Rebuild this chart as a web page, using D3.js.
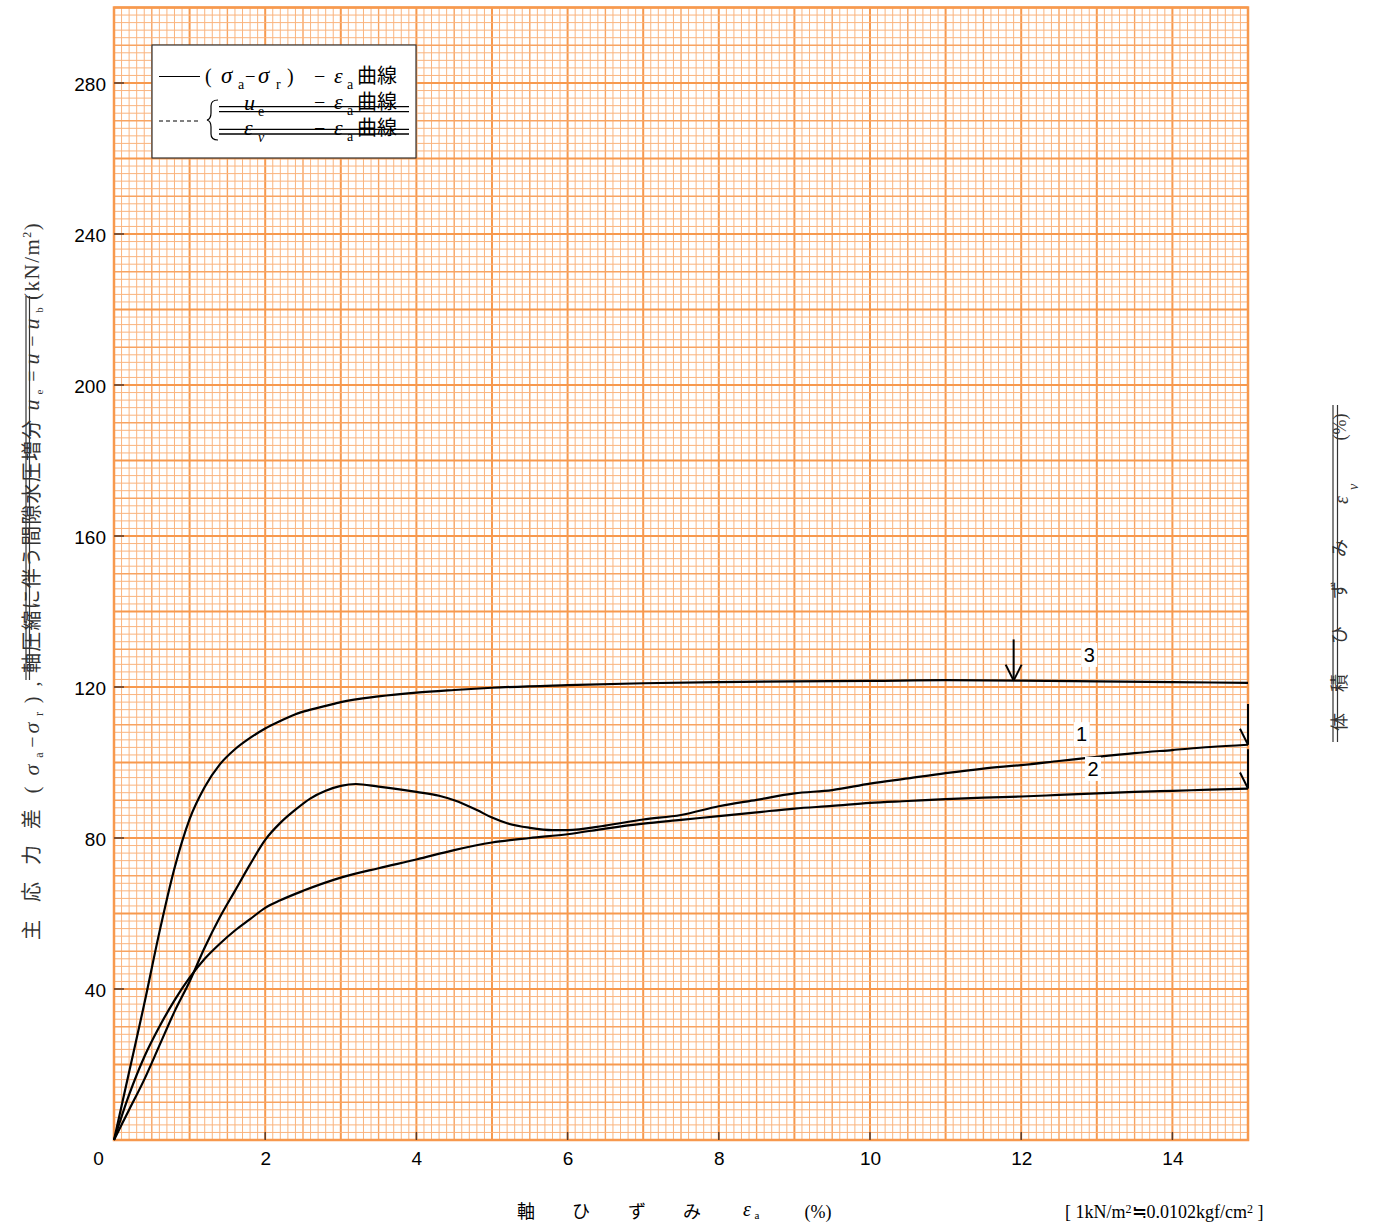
<!DOCTYPE html>
<html><head><meta charset="utf-8">
<script src="https://cdn.jsdelivr.net/npm/d3@7"></script>
<style>
html,body{margin:0;padding:0;background:#fff;}
svg{display:block;}
.serif{font-family:"Liberation Serif","Noto Sans CJK JP",serif;}
.sans{font-family:"Liberation Sans",Arial,sans-serif;}
</style></head>
<body>
<script>
// ---------- data ----------
const xTicks = [0,2,4,6,8,10,12,14];
const yTicks = [40,80,120,160,200,240,280];

const curve3X = [0,0.2,0.4,0.6,0.8,1.0,1.2,1.4,1.6,1.8,2.0,2.2,2.4,2.6,2.8,3.0,3.5,4.0,4.5,5,6,7,8,9,10,11,12,13,14,15];
const curve3Y = [0,18,36,55,72,85,93.5,99.5,103.5,106.5,109,111,112.8,114,115,116,117.5,118.5,119.2,119.8,120.5,121,121.3,121.5,121.6,121.8,121.7,121.5,121.3,121.1];

const curve1X = [0,0.2,0.4,0.6,0.8,1.0,1.2,1.4,1.6,1.8,2.0,2.2,2.4,2.6,2.8,3.0,3.2,3.5,3.8,4.0,4.3,4.5,4.8,5.0,5.2,5.5,5.8,6.0,6.5,7.0,7.5,8.0,8.5,9.0,9.5,10,10.5,11,11.5,12,12.5,13,13.5,14,14.5,15];
const curve1Y = [0,8,16,25,34,42,51,59,66,73,79.5,84,87.5,90.5,92.5,93.8,94.3,93.6,92.8,92.2,91.2,90,87.4,85.4,83.9,82.7,82.1,82.1,83.3,84.9,86.1,88.4,90.1,91.8,92.7,94.4,95.8,97.2,98.4,99.3,100.4,101.5,102.5,103.3,104.1,104.7];

const curve2X = [0,0.2,0.4,0.6,0.8,1.0,1.2,1.4,1.6,1.8,2.0,2.2,2.5,3,3.5,4,4.5,5,5.5,6,6.5,7,7.5,8,8.5,9,9.5,10,10.5,11,11.5,12,12.5,13,13.5,14,14.5,15];
const curve2Y = [0,12,22,30,37,43,48,52,55.5,58.5,61.5,63.5,66,69.5,72,74.3,76.8,78.8,80,81,82.5,83.8,84.8,85.8,86.8,87.8,88.5,89.3,89.8,90.3,90.7,91,91.4,91.8,92.2,92.5,92.8,93.1];

const curveNames = ["3","1","2"];
const labelX = [12.9, 12.8, 12.95];
const labelY = [128.5, 107.5, 98.3];

const arrowX = [11.9, 15, 15];
const arrowTop = [132.6, 115.5, 103.5];
const arrowTip = [121.7, 104.7, 93.1];

// ---------- setup ----------
const W = 1376, H = 1222;
const svg = d3.select("body").append("svg").attr("width",W).attr("height",H);
const x = d3.scaleLinear().domain([0,15]).range([114,1248]);
const y = d3.scaleLinear().domain([0,300]).range([1140,7.5]);

// grid
const grid = svg.append("g");
const xi = d3.range(0,151), yi = d3.range(0,151);
function gstyle(i){
  if(i%10===0) return {c:"#f7994e", w:2};
  if(i%5===0) return {c:"#f8a462", w:1.4};
  return {c:"#fab47e", w:1};
}
[...xi.filter(i=>i%5!==0), ...xi.filter(i=>i%5===0&&i%10!==0), ...xi.filter(i=>i%10===0)].forEach(i=>{
  const s=gstyle(i); const v=i/10;
  grid.append("line").attr("x1",x(v)).attr("x2",x(v)).attr("y1",y(0)).attr("y2",y(300))
    .attr("stroke",s.c).attr("stroke-width",s.w);
});
[...yi.filter(i=>i%5!==0), ...yi.filter(i=>i%5===0&&i%10!==0), ...yi.filter(i=>i%10===0)].forEach(i=>{
  const s=gstyle(i); const v=i*2;
  grid.append("line").attr("y1",y(v)).attr("y2",y(v)).attr("x1",x(0)).attr("x2",x(15))
    .attr("stroke",s.c).attr("stroke-width",s.w);
});
grid.append("rect").attr("x",x(0)).attr("y",y(300)).attr("width",x(15)-x(0)).attr("height",y(0)-y(300))
  .attr("fill","none").attr("stroke","#f7994e").attr("stroke-width",2.5);

// ticks (inward, dark)
xTicks.filter(d=>d>0).forEach(d=>{
  svg.append("line").attr("x1",x(d)).attr("x2",x(d)).attr("y1",y(0)).attr("y2",y(0)-8)
    .attr("stroke","#5a3a28").attr("stroke-width",1.5);
});
yTicks.forEach(d=>{
  svg.append("line").attr("x1",x(0)).attr("x2",x(0)+10).attr("y1",y(d)).attr("y2",y(d))
    .attr("stroke","#5a3a28").attr("stroke-width",1.5);
});

// axes labels via d3 axes
const xAxis = svg.append("g").attr("transform",`translate(0,${y(0)})`)
  .call(d3.axisBottom(x).tickValues(xTicks).tickSize(0).tickPadding(12).tickFormat(d3.format("d")));
xAxis.select(".domain").remove();
xAxis.selectAll("text").attr("class","sans").style("font-size","19px").attr("fill","#000")
  .attr("font-family",null)
  .attr("dx",d=>d===0?(98-x(0)):0);
const yAxis = svg.append("g").attr("transform",`translate(${x(0)},0)`)
  .call(d3.axisLeft(y).tickValues(yTicks).tickSize(0).tickPadding(8).tickFormat(d3.format("d")));
yAxis.select(".domain").remove();
yAxis.selectAll("text").attr("class","sans").style("font-size","19px").attr("fill","#000").attr("font-family",null)
  .attr("dy","0.42em");

// curves
const line = d3.line().x(d=>x(d[0])).y(d=>y(d[1])).curve(d3.curveMonotoneX);
const series = [d3.zip(curve3X,curve3Y), d3.zip(curve1X,curve1Y), d3.zip(curve2X,curve2Y)];
series.forEach(s=>{
  svg.append("path").attr("d",line(s)).attr("fill","none").attr("stroke","#000").attr("stroke-width",2.2)
    .attr("stroke-linejoin","round");
});

// arrows
arrowX.forEach((ax,i)=>{
  const px=x(ax), pt=y(arrowTop[i]), pk=y(arrowTip[i]);
  svg.append("line").attr("x1",px).attr("x2",px).attr("y1",pt).attr("y2",pk).attr("stroke","#000").attr("stroke-width",2);
  svg.append("line").attr("x1",px-8).attr("x2",px).attr("y1",pk-16).attr("y2",pk).attr("stroke","#000").attr("stroke-width",2);
  if(i===0) svg.append("line").attr("x1",px+8).attr("x2",px).attr("y1",pk-16).attr("y2",pk).attr("stroke","#000").attr("stroke-width",2);
});

// curve labels
curveNames.forEach((n,i)=>{
  const cx=x(labelX[i]), cy=y(labelY[i]);
  svg.append("rect").attr("x",cx-8).attr("y",cy-12).attr("width",16).attr("height",24).attr("fill","#fff");
  svg.append("text").attr("class","sans").attr("x",cx).attr("y",cy+7).attr("text-anchor","middle")
    .style("font-size","20px").text(n);
});

// legend
const lg = svg.append("g").attr("class","serif");
lg.append("rect").attr("x",152).attr("y",45).attr("width",264).attr("height",113).attr("fill","#fff")
  .attr("stroke","#333").attr("stroke-width",1.2);
lg.append("line").attr("x1",159).attr("x2",200).attr("y1",76.5).attr("y2",76.5).attr("stroke","#000").attr("stroke-width",1.2);
lg.append("line").attr("x1",159).attr("x2",200).attr("y1",121).attr("y2",121).attr("stroke","#000").attr("stroke-width",1).attr("stroke-dasharray","4,3");
function t(g,str,xx,yy,size,opts={}){
  const e=g.append("text").attr("x",xx).attr("y",yy).style("font-size",size+"px").text(str).attr("fill",opts.fill||"#000");
  if(opts.italic) e.style("font-style","italic");
  if(opts.anchor) e.attr("text-anchor",opts.anchor);
  return e;
}
t(lg,"(",205,83,20); t(lg,"σ",221,83,23,{italic:1}); t(lg,"a",238,89,14);
t(lg,"–",246,80,17); t(lg,"σ",258,83,23,{italic:1}); t(lg,"r",276,89,14); t(lg,")",287,83,20);
t(lg,"−",314,83,20); t(lg,"ε",334,83,22,{italic:1}); t(lg,"a",347,89,14); t(lg,"曲線",357,83,20);
// row 2
t(lg,"u",244,110,22,{italic:1}); t(lg,"e",258,116,14);
t(lg,"−",314,109,20); t(lg,"ε",334,109,22,{italic:1}); t(lg,"a",347,115,14); t(lg,"曲線",357,109,20);
// row 3
t(lg,"ε",244,135,22,{italic:1}); t(lg,"v",258,142,14,{italic:1});
t(lg,"−",314,135,20); t(lg,"ε",334,135,22,{italic:1}); t(lg,"a",347,141,14); t(lg,"曲線",357,135,20);
[106.7,111.7,129.3,134].forEach(v=>lg.append("line").attr("x1",219).attr("x2",409).attr("y1",v).attr("y2",v).attr("stroke","#000").attr("stroke-width",1.3));
lg.append("path").attr("d","M218,100 Q211,100 211,106 L211,113 Q211,119 207,120 Q211,121 211,127 L211,134 Q211,140 218,140")
  .attr("fill","none").attr("stroke","#000").attr("stroke-width",1.2);

// left y label (rotated pieces)
const yl = svg.append("g").attr("class","serif").attr("fill","#333");
function rp(g,str,bx,sy,size,opts={}){
  const e=g.append("text").attr("transform",`translate(${bx},${sy}) rotate(-90)`).attr("text-anchor",opts.anchor||"middle")
    .style("font-size",size+"px").attr("fill","#333").text(str);
  if(opts.italic) e.style("font-style","italic");
  return e;
}
const LB=39;
rp(yl,"主",LB,930,20); rp(yl,"応",LB,892,20); rp(yl,"力",LB,855,20); rp(yl,"差",LB,819,20);
rp(yl,"(",LB,790,20); rp(yl,"σ",LB,770,22,{italic:1}); rp(yl,"a",LB+4,755,12);
rp(yl,"−",LB,742,20); rp(yl,"σ",LB,728,22,{italic:1}); rp(yl,"r",LB+4,714,12);
rp(yl,")",LB,700,20); rp(yl,",",LB,684,20);
"軸圧縮に伴う間隙水圧増分".split("").forEach((c,i)=>rp(yl,c,LB,663-i*21.2,20));
rp(yl,"u",LB,405,22,{italic:1}); rp(yl,"e",LB+4,392,11);
rp(yl,"=",LB,376,20); rp(yl,"u",LB,359,22,{italic:1}); rp(yl,"−",LB,341,20);
rp(yl,"u",LB,324,22,{italic:1}); rp(yl,"b",LB+4,310,11);
const kn = yl.append("text").attr("transform",`translate(${LB},300) rotate(-90)`).style("font-size","21px").attr("fill","#333")
  .style("letter-spacing","1.5px");
kn.append("tspan").text("(kN/m"); kn.append("tspan").attr("dy",-8).style("font-size","12px").text("2"); kn.append("tspan").attr("dy",8).text(")");
[26,29.5].forEach(v=>yl.append("line").attr("x1",v).attr("x2",v).attr("y1",296).attr("y2",680).attr("stroke","#333").attr("stroke-width",1.2));

// right label
const rl = svg.append("g").attr("class","serif");
const RB=1346;
rp(rl,"体",RB,722,18); rp(rl,"積",RB,683,18); rp(rl,"ひ",RB,635,18); rp(rl,"ず",RB,590,18); rp(rl,"み",RB,548,18);
rp(rl,"ε",RB+2,500,20,{italic:1}); rp(rl,"v",RB+12,487,14,{italic:1}); rp(rl,"(%)",RB,427,18);
[1333,1337.5].forEach(v=>rl.append("line").attr("x1",v).attr("x2",v).attr("y1",405).attr("y2",742).attr("stroke","#333").attr("stroke-width",1.2));

// bottom label
const bl = svg.append("g").attr("class","serif");
t(bl,"軸",526,1218,18,{anchor:"middle"}); t(bl,"ひ",581,1218,18,{anchor:"middle"});
t(bl,"ず",637,1218,18,{anchor:"middle"}); t(bl,"み",692,1218,18,{anchor:"middle"});
t(bl,"ε",747,1216,20,{anchor:"middle",italic:1}); t(bl,"a",757,1219,11,{anchor:"middle"});
t(bl,"(%)",818,1218,18,{anchor:"middle"});
const note = bl.append("text").attr("x",1065).attr("y",1218).style("font-size","18px");
note.append("tspan").text("[ 1kN/m");
note.append("tspan").attr("dy",-5).style("font-size","12px").text("2");
note.append("tspan").attr("dy",5).text("≒0.0102kgf/cm");
note.append("tspan").attr("dy",-5).style("font-size","12px").text("2");
note.append("tspan").attr("dy",5).text(" ]");
</script>
</body></html>
